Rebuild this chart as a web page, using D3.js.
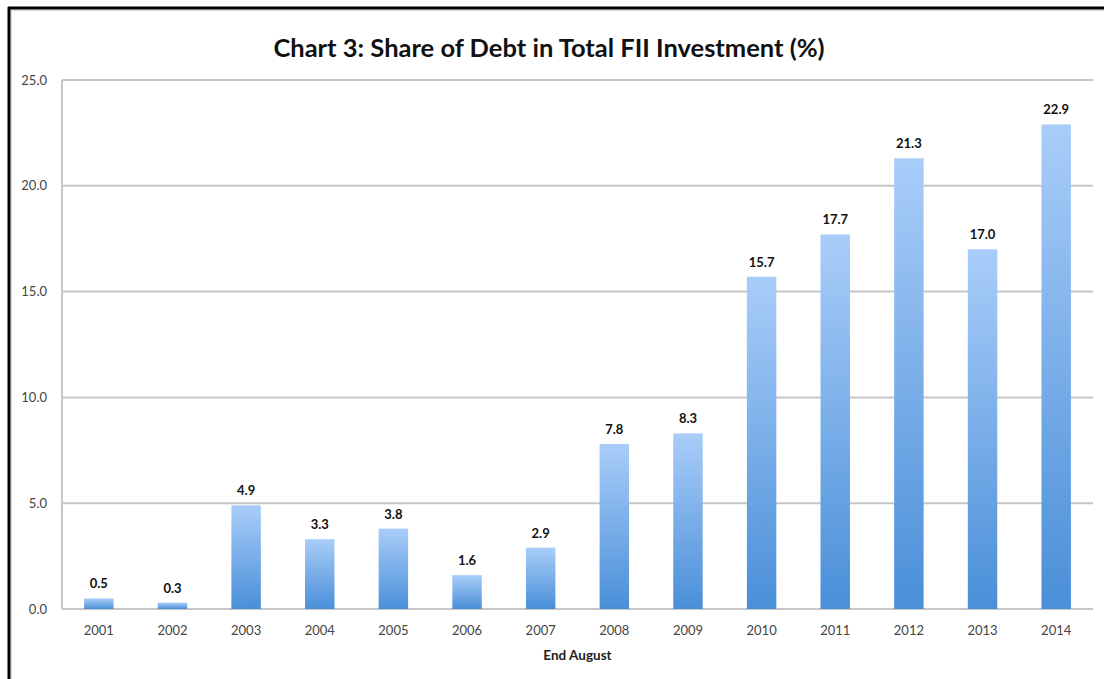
<!DOCTYPE html>
<html>
<head>
<meta charset="utf-8">
<script src="https://cdn.jsdelivr.net/npm/d3@7"></script>
<style>
  html, body { margin: 0; padding: 0; background: #fff; }
  svg { display: block; }
</style>
</head>
<body>
<svg id="chart" width="1104" height="679"></svg>
<script>
// Share of debt in total FII investment, by year (end August)
const years = ["2001","2002","2003","2004","2005","2006","2007","2008","2009","2010","2011","2012","2013","2014"];
const debtShare = [0.5, 0.3, 4.9, 3.3, 3.8, 1.6, 2.9, 7.8, 8.3, 15.7, 17.7, 21.3, 17.0, 22.9];
const yTicks = [0, 5, 10, 15, 20, 25];

const titleText = "Chart 3: Share of Debt in Total FII Investment (%)";
const xAxisTitle = "End August";

const W = 1104, H = 679;
const margin = { left: 62, right: 11, top: 80, bottom: 70 };
const svg = d3.select("#chart");
const font = "Lato, 'Open Sans', sans-serif";

// frame
svg.append("rect").attr("x", 0).attr("y", 0).attr("width", W).attr("height", H).attr("fill", "#fff");
svg.append("line").attr("x1", 8).attr("x2", W).attr("y1", 8).attr("y2", 8)
  .attr("stroke", "#000").attr("stroke-width", 3);
svg.append("line").attr("x1", 9).attr("x2", 9).attr("y1", 7).attr("y2", H)
  .attr("stroke", "#000").attr("stroke-width", 3);
svg.append("line").attr("x1", 11).attr("x2", W).attr("y1", 10.5).attr("y2", 10.5)
  .attr("stroke", "#d8d8d8").attr("stroke-width", 1);
svg.append("line").attr("x1", 11.5).attr("x2", 11.5).attr("y1", 10).attr("y2", H)
  .attr("stroke", "#d8d8d8").attr("stroke-width", 1);

const x = d3.scaleBand()
  .domain(years)
  .range([margin.left, W - margin.right])
  .paddingInner(0.6)
  .paddingOuter(0.3);

const y = d3.scaleLinear()
  .domain([0, 25])
  .range([H - margin.bottom, margin.top]);

// gradient for bars
const defs = svg.append("defs");
const grad = defs.append("linearGradient")
  .attr("id", "barGrad")
  .attr("x1", 0).attr("y1", 0).attr("x2", 0).attr("y2", 1);
grad.append("stop").attr("offset", "0%").attr("stop-color", "#a9cdf9");
grad.append("stop").attr("offset", "100%").attr("stop-color", "#4a8fd8");

// gridlines
svg.append("g")
  .selectAll("line")
  .data(yTicks)
  .join("line")
  .attr("x1", margin.left)
  .attr("x2", W - margin.right)
  .attr("y1", d => y(d))
  .attr("y2", d => y(d))
  .attr("stroke", "#c6c6c6")
  .attr("stroke-width", 2);

// y axis line
svg.append("line")
  .attr("x1", margin.left).attr("x2", margin.left)
  .attr("y1", y(25)).attr("y2", y(0))
  .attr("stroke", "#c6c6c6").attr("stroke-width", 2);

// y axis labels
const yAxis = d3.axisLeft(y).tickValues(yTicks).tickFormat(d3.format(".1f")).tickSize(0).tickPadding(15);
const gy = svg.append("g").attr("transform", `translate(${margin.left},0)`).call(yAxis);
gy.select(".domain").remove();
gy.selectAll("text").attr("font-family", font).attr("font-size", 13).attr("fill", "#444");

// bars
svg.append("g")
  .selectAll("rect")
  .data(debtShare)
  .join("rect")
  .attr("x", (d, i) => x(years[i]))
  .attr("y", d => y(d))
  .attr("width", x.bandwidth())
  .attr("height", d => y(0) - y(d))
  .attr("fill", "url(#barGrad)");

// value labels
svg.append("g")
  .selectAll("text")
  .data(debtShare)
  .join("text")
  .attr("x", (d, i) => x(years[i]) + x.bandwidth() / 2)
  .attr("y", d => y(d) - 10)
  .attr("text-anchor", "middle")
  .attr("font-family", font)
  .attr("font-weight", "bold")
  .attr("font-size", 13)
  .attr("fill", "#111")
  .text(d => d.toFixed(1));

// x axis labels
const xAxis = d3.axisBottom(x).tickSize(0).tickPadding(17);
const gx = svg.append("g").attr("transform", `translate(0,${y(0)})`).call(xAxis);
gx.select(".domain").remove();
gx.selectAll("text").attr("font-family", font).attr("font-size", 13).attr("fill", "#444");

// axis title
svg.append("text")
  .attr("x", (margin.left + W - margin.right) / 2)
  .attr("y", 660)
  .attr("text-anchor", "middle")
  .attr("font-family", font)
  .attr("font-weight", "bold")
  .attr("font-size", 13.5)
  .attr("fill", "#222")
  .text(xAxisTitle);

// chart title
svg.append("text")
  .attr("x", 549)
  .attr("y", 57)
  .attr("text-anchor", "middle")
  .attr("font-family", font)
  .attr("font-weight", "bold")
  .attr("font-size", 25.5)
  .attr("fill", "#111")
  .text(titleText);
</script>
</body>
</html>
